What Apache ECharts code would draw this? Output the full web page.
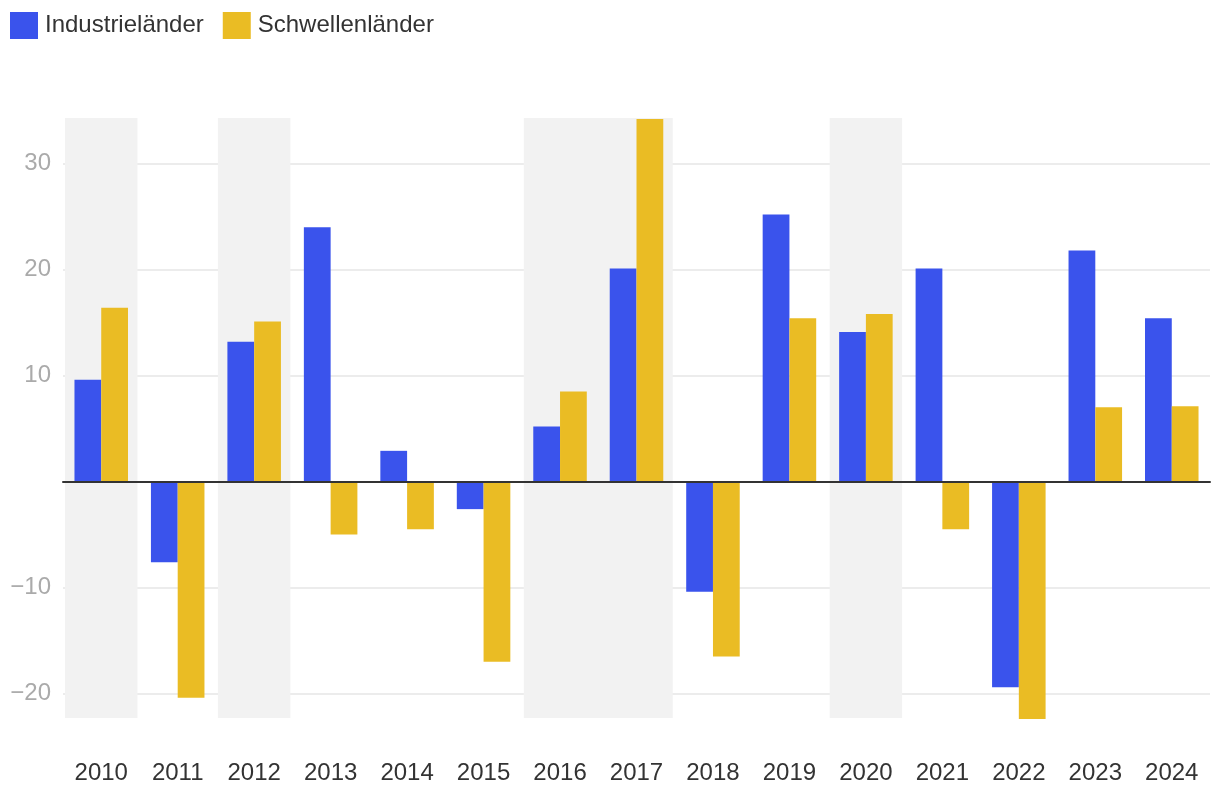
<!DOCTYPE html>
<html>
<head>
<meta charset="utf-8">
<script src="https://cdn.jsdelivr.net/npm/echarts@6/dist/echarts.min.js"></script>
<style>
html,body{margin:0;padding:0;background:#fff;}
#chart{width:1220px;height:804px;}
</style>
</head>
<body>
<div id="chart"></div>
<script>
const years = ['2010','2011','2012','2013','2014','2015','2016','2017','2018','2019','2020','2021','2022','2023','2024'];
const industrielaender = [9.6, -7.6, 13.2, 24.0, 2.9, -2.6, 5.2, 20.1, -10.4, 25.2, 14.1, 20.1, -19.4, 21.8, 15.4];
const schwellenlaender = [16.4, -20.4, 15.1, -5.0, -4.5, -17.0, 8.5, 34.2, -16.5, 15.4, 15.8, -4.5, -22.4, 7.0, 7.1];
const shadedSpans = [['2010','2010'],['2012','2012'],['2016','2017'],['2020','2020']];
const bandRange = [-22.3, 34.3];

const FONT = '"Liberation Sans", Arial, Helvetica, sans-serif';
const chart = echarts.init(document.getElementById('chart'), null, {renderer: 'canvas'});

const spanData = shadedSpans.map(s => [years.indexOf(s[0]), years.indexOf(s[1])]);

chart.setOption({
  animation: false,
  backgroundColor: '#fff',
  textStyle: {fontFamily: FONT},
  legend: {
    left: 10, top: 12, padding: 0,
    itemWidth: 28, itemHeight: 27, itemGap: 19,
    icon: 'rect',
    textStyle: {fontSize: 24, color: '#333', fontFamily: FONT, padding: [0, 0, 0, 2]},
    data: ['Industrieländer', 'Schwellenländer']
  },
  grid: {left: 63, right: 10, top: 118, bottom: 85, containLabel: false},
  xAxis: [{
    type: 'category',
    data: years,
    axisLine: {show: false, onZero: false},
    axisTick: {show: false},
    axisLabel: {fontSize: 24, color: '#333', margin: 42, fontFamily: FONT},
    splitLine: {show: false}
  }, {
    type: 'category',
    data: years,
    position: 'bottom',
    z: 5,
    axisLine: {show: true, onZero: true, lineStyle: {color: '#333', width: 2}},
    axisTick: {show: false},
    axisLabel: {show: false},
    splitLine: {show: false}
  }],
  yAxis: {
    type: 'value',
    min: -22.4,
    max: 34.3,
    splitNumber: 5,
    axisLine: {show: false},
    axisTick: {show: false},
    axisLabel: {
      fontSize: 24, color: '#aaa', margin: 12, fontFamily: FONT,
      showMinLabel: false, showMaxLabel: false,
      formatter: v => (Math.round(v) === v && v !== 0 ? String(v).replace('-', '\u2212') : '')
    },
    splitLine: {show: true, showMinLine: false, showMaxLine: false, lineStyle: {color: '#e6e6e6', width: 1.5}}
  },
  series: [{
    type: 'custom',
    name: 'bands',
    xAxisIndex: 0,
    z: 1,
    silent: true,
    encode: {x: [0, 1]},
    data: spanData,
    renderItem: function (params, api) {
      const i0 = api.value(0), i1 = api.value(1);
      const bw = api.size([1, 0])[0];
      const inset = 2;
      const pTop = api.coord([i0, bandRange[1]]);
      const pBot = api.coord([i1, bandRange[0]]);
      const x = pTop[0] - bw / 2 + inset;
      const w = pBot[0] + bw / 2 - inset - x;
      return {
        type: 'rect',
        shape: {x: x, y: pTop[1], width: w, height: pBot[1] - pTop[1]},
        style: {fill: '#f2f2f2'}
      };
    }
  }, {
    type: 'bar',
    name: 'Industrieländer',
    xAxisIndex: 0,
    data: industrielaender,
    barWidth: '35%',
    barGap: '0%',
    itemStyle: {color: '#3a53ec'},
    z: 2
  }, {
    type: 'bar',
    name: 'Schwellenländer',
    xAxisIndex: 0,
    data: schwellenlaender,
    barWidth: '35%',
    barGap: '0%',
    itemStyle: {color: '#eabc24'},
    z: 2
  }]
});
</script>
</body>
</html>
